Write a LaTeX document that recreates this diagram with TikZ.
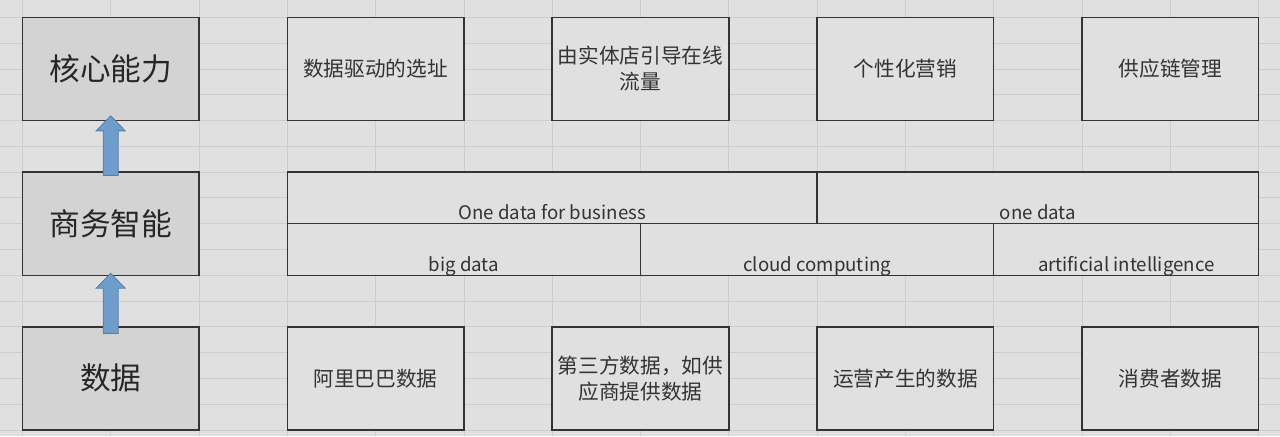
\documentclass[tikz,border=0pt]{standalone}
\usepackage{fontspec}
\setmainfont{Noto Sans CJK SC}
\usetikzlibrary{positioning,calc}
\definecolor{sheet}{HTML}{E0E0E0}
\definecolor{gridgray}{HTML}{CDCDCD}
\definecolor{levelgray}{HTML}{D3D3D3}
\definecolor{edge}{HTML}{333333}
\definecolor{ink}{HTML}{333333}
\definecolor{arrowblue}{HTML}{6E9CCB}
\definecolor{arrowedge}{HTML}{4F7FB0}
\def\colw{66.27pt}
\def\rowh{19.35pt}

\begin{document}
\begin{tikzpicture}[x=0.75pt, y=-0.75pt, node distance=2*\rowh and \colw,
	box/.style={draw=edge, line width=1.1pt, outer sep=0pt, fill=sheet, minimum width=2*\colw, minimum height=4*\rowh, inner sep=2pt, align=center, text=ink, font=\fontsize{15.5pt}{19.5pt}\selectfont},
	level/.style={box, fill=levelgray, text=black!85, font=\fontsize{23pt}{28pt}\selectfont},
	band/.style={draw=edge, line width=1.1pt, outer sep=0pt, fill=sheet, inner ysep=1pt, text height=2*\rowh-4pt, text depth=2pt, text=ink, font=\fontsize{14pt}{17pt}\selectfont},
	gridline/.style={draw=gridgray, line width=0.6pt},
	liftarrow/.style={draw=arrowedge, fill=arrowblue, line width=0.6pt, to path={let \p1=(\tikztostart), \p2=(\tikztotarget) in
		(\x1-5.6pt,\y1) -- (\x1-5.6pt,\y2-11.25pt) -- (\x1-10.9pt,\y2-11.25pt) -- (\x1,\y2) -- (\x1+10.9pt,\y2-11.25pt) -- (\x1+5.6pt,\y2-11.25pt) -- (\x1+5.6pt,\y1) -- cycle}}]
	\fill[sheet] (0,0) rectangle (1280,436);
	\foreach \i in {0,...,14} \draw[gridline] (22+88.36*\i,0) -- ++(0,436);
	\foreach \j in {0,...,16} \draw[gridline] (0,17+25.8*\j) -- ++(1280,0);

	\node[level, anchor=north west] (core) at (22,17) {核心能力};
	\node[level, below=of core] (biz) {商务智能};
	\node[level, below=of biz] (data) {数据};

	\node[box, right=of core] (site) {数据驱动的选址};
	\node[box, right=of site] (store) {由实体店引导在线\\流量};
	\node[box, right=of store] (mkt) {个性化营销};
	\node[box, right=of mkt] (supply) {供应链管理};

	\node[band, minimum width=6*\colw, below right=0pt and \colw of biz.north east] (onebiz) {One data for business};
	\node[band, minimum width=5*\colw, right=0pt of onebiz] (onedata) {one data};
	\node[band, minimum width=4*\colw, below right=0pt and 0pt of onebiz.south west] (bigdata) {big data};
	\node[band, minimum width=4*\colw, right=0pt of bigdata] (cloud) {cloud computing};
	\node[band, minimum width=3*\colw, right=0pt of cloud] (ai) {artificial intelligence};

	\node[box, right=of data] (ali) {阿里巴巴数据};
	\node[box, right=of ali] (third) {第三方数据，如供\\应商提供数据};
	\node[box, right=of third] (ops) {运营产生的数据};
	\node[box, right=of ops] (consumer) {消费者数据};

	\draw[liftarrow] ([yshift=-5pt]data.north) to ([yshift=1.5pt]biz.south);
	\draw[liftarrow] ([yshift=-2.5pt]biz.north) to ([yshift=3.5pt]core.south);
\end{tikzpicture}
\end{document}
